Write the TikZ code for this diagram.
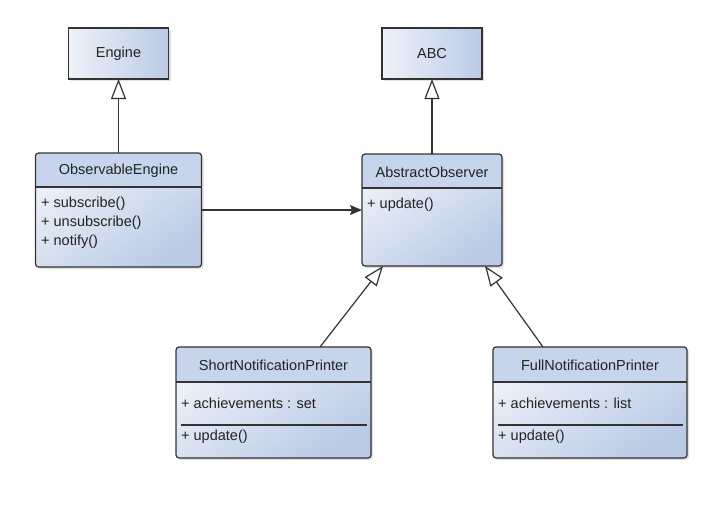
\documentclass[tikz,border=0pt]{standalone}
\usepackage{fontspec}
\setmainfont{Liberation Sans}
\usetikzlibrary{arrows.meta,shadows}
\definecolor{lineclr}{HTML}{333333}
\definecolor{textclr}{HTML}{222222}
\definecolor{boxlight}{HTML}{EEF2F9}
\definecolor{boxdark}{HTML}{BACBE6}
\definecolor{headclr}{HTML}{C7D5EC}

\begin{document}
\begin{tikzpicture}[x=1pt,y=-1pt,
    txt/.style ={font=\fontsize{14.5}{17}\selectfont, text=textclr, inner sep=0pt},
    simplebox/.style ={txt, draw=lineclr, line width=1.2pt, left color=boxlight, right color=boxdark,
      drop shadow={opacity=0.25, shadow xshift=2pt, shadow yshift=-2pt},
      minimum width=100pt, minimum height=51pt, outer sep=0pt},
    classbody/.style ={top color=boxlight, bottom color=boxdark, shading angle=35, rounded corners=3pt,
      drop shadow={opacity=0.25, shadow xshift=2pt, shadow yshift=-2pt}, outer sep=0pt, inner sep=0pt},
    classedge/.style ={draw=lineclr, line width=1.2pt},
    member/.style ={txt, anchor=west},
    inherit/.style ={draw=lineclr, line width=1.2pt, -{Triangle[open, length=20pt, width=15pt, fill=white]}},
    assoc/.style ={draw=lineclr, line width=1.2pt, -{Stealth[length=12pt, width=10pt, inset=2pt]}}]
   \useasboundingbox (0,0) rectangle (725,506);

   % base classes
   \node[simplebox] (engine) at (118.5,53.5) {Engine};
   \node[simplebox] (abc) at (432,53.5) {ABC};

   % ObservableEngine
   \node[classbody, minimum width=166pt, minimum height=114pt] (obs) at (118.5,210) {};
   \begin{scope}
     \clip[rounded corners=3pt] (obs.north west) rectangle (obs.south east);
     \fill[headclr] (obs.north west) rectangle ([yshift=-34pt]obs.north east);
   \end{scope}
   \draw[classedge] ([yshift=-34pt]obs.north west) -- ([yshift=-34pt]obs.north east);
   \draw[classedge, rounded corners=3pt] (obs.north west) rectangle (obs.south east);
   \node[txt] (obsname) at (118.5,171) {ObservableEngine};
   \node[member] (obssub) at (41,204) {+ subscribe()};
   \node[member] (obsunsub) at (41,223) {+ unsubscribe()};
   \node[member] (obsnotify) at (41,242) {+ notify()};

   % AbstractObserver
   \node[classbody, minimum width=140pt, minimum height=112pt] (abs) at (432,210) {};
   \begin{scope}
     \clip[rounded corners=3pt] (abs.north west) rectangle (abs.south east);
     \fill[headclr] (abs.north west) rectangle ([yshift=-34pt]abs.north east);
   \end{scope}
   \draw[classedge] ([yshift=-34pt]abs.north west) -- ([yshift=-34pt]abs.north east);
   \draw[classedge, rounded corners=3pt] (abs.north west) rectangle (abs.south east);
   \node[txt] (absname) at (432,172) {AbstractObserver};
   \node[member] (absupdate) at (367,205) {+ update()};

   % ShortNotificationPrinter
   \node[classbody, minimum width=195pt, minimum height=111pt] (shortp) at (273.5,402.5) {};
   \begin{scope}
     \clip[rounded corners=3pt] (shortp.north west) rectangle (shortp.south east);
     \fill[headclr] (shortp.north west) rectangle ([yshift=-35pt]shortp.north east);
   \end{scope}
   \draw[classedge] ([yshift=-35pt]shortp.north west) -- ([yshift=-35pt]shortp.north east);
   \draw[classedge] ([xshift=5pt,yshift=-78pt]shortp.north west) -- ([xshift=-4pt,yshift=-78pt]shortp.north east);
   \draw[classedge, rounded corners=3pt] (shortp.north west) rectangle (shortp.south east);
   \node[txt] (shortname) at (273.5,365) {ShortNotificationPrinter};
   \node[member] (shortach) at (181,403) {+ achievements : set};
   \node[member] (shortupdate) at (181,437) {+ update()};

   % FullNotificationPrinter
   \node[classbody, minimum width=194pt, minimum height=111pt] (fullp) at (590,402.5) {};
   \begin{scope}
     \clip[rounded corners=3pt] (fullp.north west) rectangle (fullp.south east);
     \fill[headclr] (fullp.north west) rectangle ([yshift=-35pt]fullp.north east);
   \end{scope}
   \draw[classedge] ([yshift=-35pt]fullp.north west) -- ([yshift=-35pt]fullp.north east);
   \draw[classedge] ([xshift=5pt,yshift=-78pt]fullp.north west) -- ([xshift=-4pt,yshift=-78pt]fullp.north east);
   \draw[classedge, rounded corners=3pt] (fullp.north west) rectangle (fullp.south east);
   \node[txt] (fullname) at (590,365) {FullNotificationPrinter};
   \node[member] (fullach) at (498,403) {+ achievements : list};
   \node[member] (fullupdate) at (498,437) {+ update()};

   % connectors
   \draw[inherit] (obs) -- (engine);
   \draw[inherit] (abs) -- (abc);
   \draw[assoc] (obs) -- (abs);
   \draw[inherit] ([xshift=46.5pt]shortp.north) -- ([xshift=-49pt]abs.south);
   \draw[inherit] ([xshift=-47pt]fullp.north) -- ([xshift=53pt]abs.south);
 \end{tikzpicture}
\end{document}
